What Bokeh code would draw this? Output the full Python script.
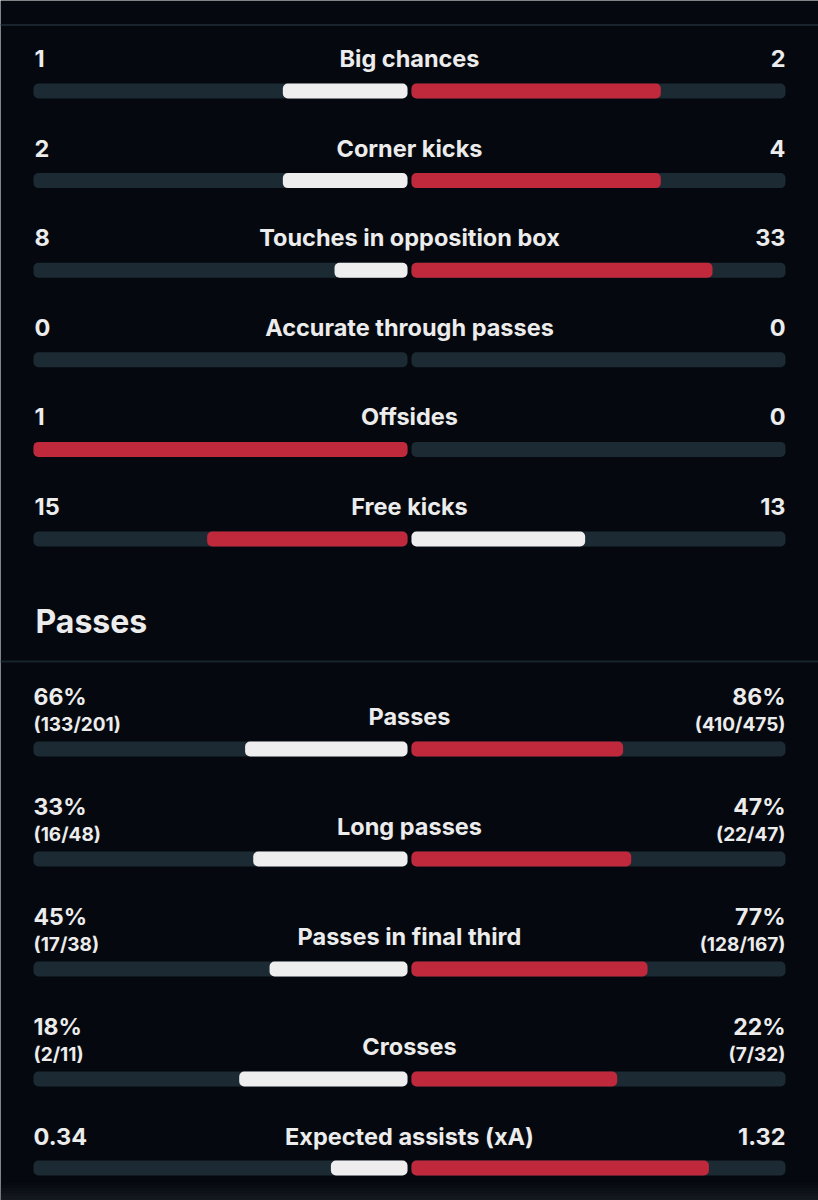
from bokeh.plotting import figure
from bokeh.models import Range1d, ColumnDataSource
from bokeh.core.properties import value
from bokeh.embed import file_html
from bokeh.resources import INLINE

# ---- data ----
att_labels = ["Big chances", "Corner kicks", "Touches in opposition box",
              "Accurate through passes", "Offsides", "Free kicks"]
att_home = [1, 2, 8, 0, 1, 15]
att_away = [2, 4, 33, 0, 0, 13]

pass_labels = ["Passes", "Long passes", "Passes in final third", "Crosses"]
pass_home_succ = [133, 16, 17, 2]
pass_home_tot = [201, 48, 38, 11]
pass_away_succ = [410, 22, 128, 7]
pass_away_tot = [475, 47, 167, 32]

xa_label = "Expected assists (xA)"
xa_home = 0.34
xa_away = 1.32

section_title = "Passes"

# ---- style ----
BG = "#05090f"
TRACK = "#1c2a33"
RED = "#c0283c"
WHITE = "#eeeeee"
TXT = "#ececec"
LINE = "#19232c"
FONT = "Inter"
FS = "23.5px"

W, H = 818, 1200
p = figure(width=W, height=H, output_backend="svg", toolbar_location=None,
           x_range=Range1d(0, W), y_range=Range1d(H, 0),
           min_border=0, background_fill_color=BG, border_fill_color=BG)
p.axis.visible = False
p.grid.visible = False
p.outline_line_color = None

L0, MID_L, MID_R, R1 = 33, 407, 411, 785
TW = MID_L - L0
BH = 15

tracks = dict(left=[], right=[], top=[], bottom=[])
fills = dict(left=[], right=[], top=[], bottom=[], color=[])

def add_bar(h, a, top):
    for l, r in ((L0, MID_L), (MID_R, R1)):
        tracks["left"].append(l); tracks["right"].append(r)
        tracks["top"].append(top); tracks["bottom"].append(top + BH)
    tot = h + a
    if tot <= 0:
        return
    hc = RED if h > a else WHITE
    ac = RED if a > h else WHITE
    if h > 0:
        fills["left"].append(MID_L - h / tot * TW); fills["right"].append(MID_L)
        fills["top"].append(top); fills["bottom"].append(top + BH); fills["color"].append(hc)
    if a > 0:
        fills["left"].append(MID_R); fills["right"].append(MID_R + a / tot * TW)
        fills["top"].append(top); fills["bottom"].append(top + BH); fills["color"].append(ac)

texts = dict(x=[], y=[], text=[], align=[], size=[])

def add_text(x, y, t, align, size):
    texts["x"].append(x); texts["y"].append(y); texts["text"].append(t)
    texts["align"].append(align); texts["size"].append(size)

# attacking section
for i, (lab, h, a) in enumerate(zip(att_labels, att_home, att_away)):
    yc = 58 + i * 89.6
    add_text(34, yc, str(h), "left", FS)
    add_text(785, yc, str(a), "right", FS)
    add_text(409, yc, lab, "center", FS)
    add_bar(h, a, yc + 25)

# passes section
for i, lab in enumerate(pass_labels):
    yc = 696 + i * 110
    hp = round(pass_home_succ[i] / pass_home_tot[i] * 100)
    ap = round(pass_away_succ[i] / pass_away_tot[i] * 100)
    add_text(33, yc, f"{hp}%", "left", "23px")
    add_text(785, yc, f"{ap}%", "right", "23px")
    add_text(33, yc + 28, f"({pass_home_succ[i]}/{pass_home_tot[i]})", "left", "19px")
    add_text(785, yc + 28, f"({pass_away_succ[i]}/{pass_away_tot[i]})", "right", "19px")
    add_text(409, yc + 20, lab, "center", FS)
    add_bar(hp, ap, yc + 45)

yc = 696 + 4 * 110
add_text(33, yc, f"{xa_home:.2f}", "left", FS)
add_text(785, yc, f"{xa_away:.2f}", "right", FS)
add_text(409, yc, xa_label, "center", FS)
add_bar(xa_home, xa_away, yc + 24)

# separators
p.segment(x0=[0, 0], x1=[W, W], y0=[24.5, 661], y1=[24.5, 661],
          line_color=LINE, line_width=2)

# bottom glow
for k in range(9):
    p.quad(left=0, right=W, top=1182 + k * 2, bottom=1184 + k * 2,
           fill_color="#262b32", fill_alpha=0.05 + k * 0.06, line_color=None)

p.quad(source=ColumnDataSource(tracks), left="left", right="right", top="top",
       bottom="bottom", fill_color=TRACK, line_color=None, border_radius=5)
p.quad(source=ColumnDataSource(fills), left="left", right="right", top="top",
       bottom="bottom", fill_color="color", line_color=None, border_radius=5)

p.text(source=ColumnDataSource(texts), x="x", y="y", text="text",
       text_align="align", text_baseline="middle", text_font_size="size",
       text_font=value(FONT), text_font_style="bold", text_color=TXT)

p.text(x=[35], y=[621], text=[section_title], text_align="left",
       text_baseline="middle", text_font_size="32px", text_font=value(FONT),
       text_font_style="bold", text_color=TXT)

html = file_html(p, INLINE)
open("out.html", "w").write(html)
